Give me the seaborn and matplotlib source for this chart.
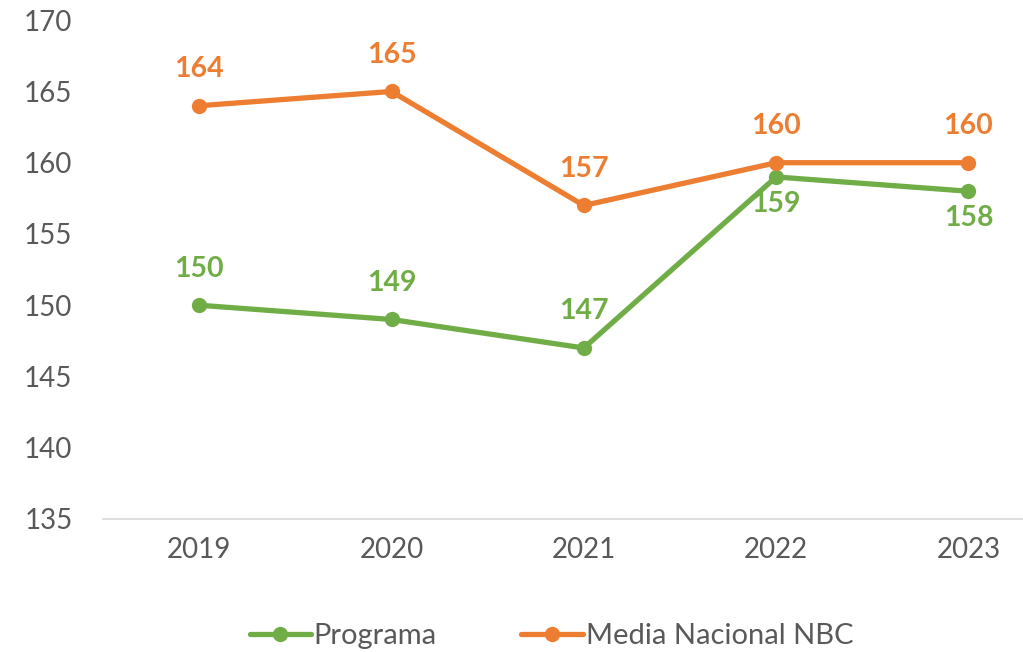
import pandas as pd
import matplotlib.pyplot as plt
import seaborn as sns

# === Data ===
years = ["2019", "2020", "2021", "2022", "2023"]
programa = [150, 149, 147, 159, 158]
media_nbc = [164, 165, 157, 160, 160]
series_names = ["Programa", "Media Nacional NBC"]
colors = {"Programa": "#70AD47", "Media Nacional NBC": "#ED7D31"}

df = pd.DataFrame({
    "Año": years * 2,
    "Valor": programa + media_nbc,
    "Serie": [series_names[0]] * len(years) + [series_names[1]] * len(years),
})

# === Plot setup ===
sns.set_theme(style="white")
plt.rcParams["font.family"] = ["Lato", "DejaVu Sans"]

fig = plt.figure(figsize=(10.23, 6.52), dpi=100)
ax = fig.add_axes([0.1007, 0.204, 0.94, 0.765])

sns.lineplot(data=df, x="Año", y="Valor", hue="Serie", palette=colors,
             hue_order=series_names, marker="o", markersize=11,
             markeredgewidth=0, linewidth=3.8, sort=False, ax=ax)

# data labels: orange above, green above except last two below
for i, v in enumerate(media_nbc):
    ax.annotate(str(v), (i, v), xytext=(0, 17), textcoords="offset points",
                ha="center", va="bottom", fontsize=20.5, fontweight="bold",
                color=colors["Media Nacional NBC"])
for i, v in enumerate(programa):
    if i >= 3:
        off, va = -10, "top"
    else:
        off, va = 17, "bottom"
    ax.annotate(str(v), (i, v), xytext=(0, off), textcoords="offset points",
                ha="center", va=va, fontsize=20.5, fontweight="bold",
                color=colors["Programa"])

ax.set_ylim(135, 170)
ax.set_yticks(range(135, 171, 5))
ax.set_xlim(-0.5, 4.5)
ax.set_xlabel("")
ax.set_ylabel("")
ax.tick_params(axis="both", labelsize=20, labelcolor="#595959", length=0)
ax.tick_params(axis="x", pad=13)
ax.tick_params(axis="y", pad=22)
for s in ["top", "right", "left"]:
    ax.spines[s].set_visible(False)
ax.spines["bottom"].set_color("#d9d9d9")
ax.spines["bottom"].set_linewidth(1.2)

handles, labels = ax.get_legend_handles_labels()
ax.get_legend().remove()
fig.legend(handles, labels, loc="center", bbox_to_anchor=(0.539, 0.024),
           ncol=2, frameon=False, fontsize=21, labelcolor="#595959",
           handlelength=2.1, handletextpad=0.1, columnspacing=2.9)

plt.savefig("out.png", dpi=100)
plt.close()
